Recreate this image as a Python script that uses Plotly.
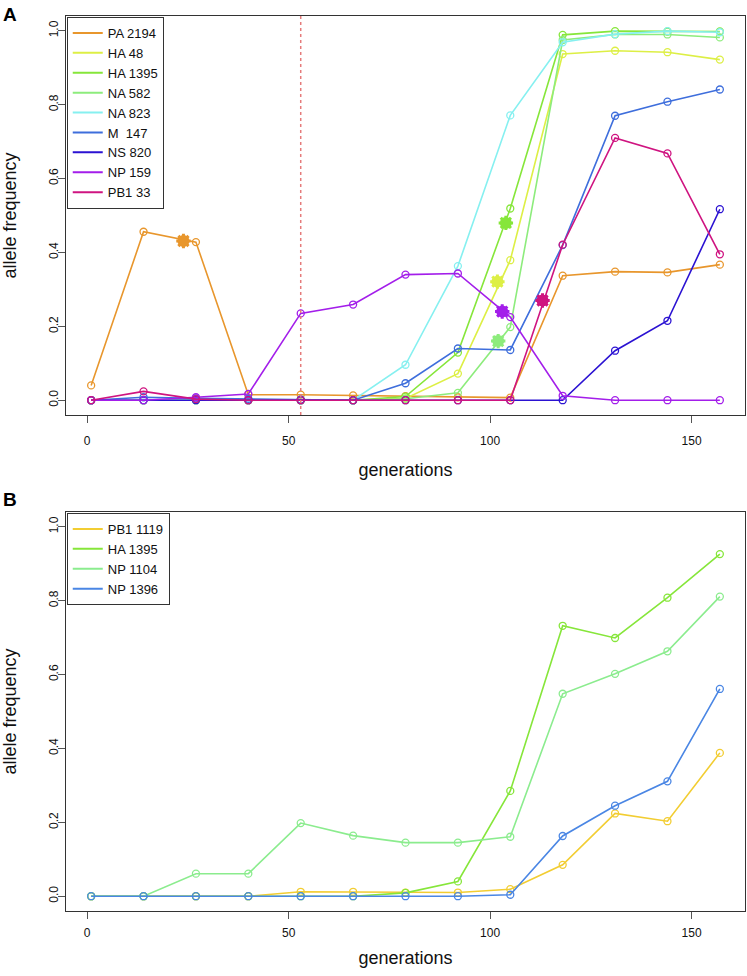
import plotly.graph_objects as go

# generations sampled (every 13 generations)
generations = [1, 14, 27, 40, 53, 66, 79, 92, 105, 118, 131, 144, 157]

# Panel A: allele frequencies
names_a = ["PA 2194", "HA 48", "HA 1395", "NA 582", "NA 823", "M  147", "NS 820", "NP 159", "PB1 33"]
colors_a = ["#E8962C", "#DDEF45", "#86E63A", "#8DEC7C", "#86F0F0", "#3E6EDC", "#2B12D2", "#A31EEA", "#CF1480"]

pa_2194 = [0.040, 0.456, 0.428, 0.015, 0.015, 0.013, 0.011, 0.008, 0.007, 0.337, 0.348, 0.346, 0.367]
ha_48 = [0.0, 0.0, 0.0, 0.0, 0.0, 0.0, 0.005, 0.072, 0.379, 0.937, 0.946, 0.942, 0.922]
ha_1395 = [0.0, 0.0, 0.0, 0.0, 0.0, 0.0, 0.010, 0.129, 0.519, 0.989, 0.999, 0.998, 0.998]
na_582 = [0.0, 0.0, 0.0, 0.0, 0.0, 0.0, 0.004, 0.020, 0.198, 0.975, 0.990, 0.990, 0.982]
na_823 = [0.0, 0.0, 0.0, 0.0, 0.0, 0.0, 0.096, 0.363, 0.771, 0.969, 0.991, 0.999, 0.996]
m_147 = [0.0, 0.008, 0.005, 0.004, 0.002, 0.0, 0.046, 0.140, 0.136, 0.420, 0.770, 0.808, 0.841]
ns_820 = [0.0, 0.0, 0.0, 0.0, 0.0, 0.0, 0.0, 0.0, 0.0, 0.0, 0.134, 0.215, 0.517]
np_159 = [0.0, 0.0, 0.008, 0.017, 0.235, 0.259, 0.340, 0.343, 0.225, 0.012, 0.0, 0.0, 0.0]
pb1_33 = [0.0, 0.024, 0.003, 0.0, 0.0, 0.0, 0.0, 0.0, 0.0, 0.421, 0.710, 0.668, 0.395]
series_a = [pa_2194, ha_48, ha_1395, na_582, na_823, m_147, ns_820, np_159, pb1_33]

# highlighted points (filled) in panel A
star_names = ["PA 2194", "HA 1395", "HA 48", "NA 582", "NP 159", "PB1 33"]
star_x = [23.9, 103.9, 101.8, 102.0, 103.0, 113.0]
star_y = [0.431, 0.480, 0.321, 0.160, 0.240, 0.270]

bottleneck_gen = 53

# Panel B
names_b = ["PB1 1119", "HA 1395", "NP 1104", "NP 1396"]
colors_b = ["#F2CD32", "#86E63A", "#8BEC8E", "#4A86E4"]
pb1_1119 = [0.0, 0.0, 0.0, 0.0, 0.012, 0.012, 0.010, 0.010, 0.019, 0.085, 0.224, 0.203, 0.388]
ha_1395_b = [0.0, 0.0, 0.0, 0.0, 0.0, 0.0, 0.009, 0.040, 0.285, 0.732, 0.699, 0.808, 0.926]
np_1104 = [0.0, 0.0, 0.061, 0.061, 0.198, 0.164, 0.145, 0.145, 0.161, 0.548, 0.602, 0.663, 0.811]
np_1396 = [0.0, 0.0, 0.0, 0.0, 0.0, 0.0, 0.0, 0.0, 0.004, 0.163, 0.245, 0.311, 0.561]
series_b = [pb1_1119, ha_1395_b, np_1104, np_1396]

FONT = "Liberation Sans, Arial, Helvetica, sans-serif"

fig = go.Figure()

# panel A lines
for name, col, vals in zip(names_a, colors_a, series_a):
    fig.add_trace(go.Scatter(x=generations, y=vals, mode="lines+markers", showlegend=False,
                             line=dict(color=col, width=1.6),
                             marker=dict(symbol="circle-open", size=7, color=col, line=dict(width=1.3)),
                             xaxis="x", yaxis="y"))
    # legend entry (line only, like R)
    fig.add_trace(go.Scatter(x=[None], y=[None], mode="lines", name=name,
                             line=dict(color=col, width=2), legend="legend",
                             xaxis="x", yaxis="y"))

# filled highlight markers
star_cols = [colors_a[names_a.index(n)] for n in star_names]
fig.add_trace(go.Scatter(x=star_x, y=star_y, mode="markers", showlegend=False,
                         marker=dict(symbol="circle", size=12, color=star_cols, line=dict(width=0)),
                         xaxis="x", yaxis="y"))
fig.add_trace(go.Scatter(x=star_x, y=star_y, mode="markers", showlegend=False,
                         marker=dict(symbol="asterisk-open", size=12, color=star_cols,
                                     line=dict(width=3, color=star_cols)),
                         xaxis="x", yaxis="y"))

# panel B lines
for name, col, vals in zip(names_b, colors_b, series_b):
    fig.add_trace(go.Scatter(x=generations, y=vals, mode="lines+markers", showlegend=False,
                             line=dict(color=col, width=1.6),
                             marker=dict(symbol="circle-open", size=7, color=col, line=dict(width=1.3)),
                             xaxis="x2", yaxis="y2"))
    fig.add_trace(go.Scatter(x=[None], y=[None], mode="lines", name=name,
                             line=dict(color=col, width=2), legend="legend2",
                             xaxis="x2", yaxis="y2"))

W, H = 747, 976
xdom = [66 / W, 745 / W]
ydom_a = [1 - 415 / H, 1 - 16 / H]
ydom_b = [1 - 911 / H, 1 - 512 / H]

xaxis_style = dict(range=[-5.24, 163.24], tickvals=[0, 50, 100, 150], ticks="outside", ticklen=7,
                   tickcolor="#555", showline=True, mirror=True, linecolor="#333", linewidth=1,
                   showgrid=False, zeroline=False, ticklabelstandoff=8, automargin=False,
                   tickfont=dict(size=12, color="#111"),
                   title=dict(text="generations", font=dict(size=18, color="#111"), standoff=15))
yaxis_style = dict(range=[-0.04, 1.04], tickvals=[0, 0.2, 0.4, 0.6, 0.8, 1.0], tickformat=".1f",
                   ticks="outside", ticklen=7, tickcolor="#555", tickangle=-90,
                   showline=True, mirror=True, linecolor="#333", linewidth=1,
                   showgrid=False, zeroline=False, ticklabelstandoff=-5, automargin=False,
                   tickfont=dict(size=12, color="#111"),
                   title=dict(text="allele frequency", font=dict(size=18, color="#111"), standoff=30))

legend_style = dict(x=0.0015, y=1, xanchor="left", yanchor="top", bgcolor="white",
                    bordercolor="#333", borderwidth=1, font=dict(size=13, color="#111"),
                    tracegroupgap=0, itemwidth=30)

fig.update_layout(
    width=W, height=H,
    margin=dict(l=0, r=0, t=0, b=0),
    paper_bgcolor="white", plot_bgcolor="white",
    font=dict(family=FONT, color="#111"),
    xaxis=dict(domain=xdom, anchor="y", **xaxis_style),
    yaxis=dict(domain=ydom_a, anchor="x", **yaxis_style),
    xaxis2=dict(domain=xdom, anchor="y2", **xaxis_style),
    yaxis2=dict(domain=ydom_b, anchor="x2", **yaxis_style),
    legend=dict(**legend_style),
    legend2=dict(**legend_style),
)
fig.update_layout(
    xaxis2=dict(title=dict(standoff=11), ticklabelstandoff=4),
    legend=dict(x=xdom[0] + 0.001, y=ydom_a[1] - 0.001),
    legend2=dict(x=xdom[0] + 0.001, y=ydom_b[1] - 0.001),
)

# bottleneck marker
fig.add_shape(type="line", xref="x", yref="y domain", x0=bottleneck_gen, x1=bottleneck_gen,
              y0=0, y1=1, line=dict(color="#E57B7B", width=1.5, dash="dot"))

# panel letters
fig.add_annotation(text="<b>A</b>", xref="paper", yref="paper", x=0.002, y=1 - 2 / H,
                   xanchor="left", yanchor="top", showarrow=False, font=dict(size=19, color="#000"))
fig.add_annotation(text="<b>B</b>", xref="paper", yref="paper", x=0.002, y=1 - 487 / H,
                   xanchor="left", yanchor="top", showarrow=False, font=dict(size=19, color="#000"))

# drop the default page margin so the figure sits at the window origin
fig.write_html("out.html", config={"displayModeBar": False},
               post_script="document.body.style.margin='0';")
